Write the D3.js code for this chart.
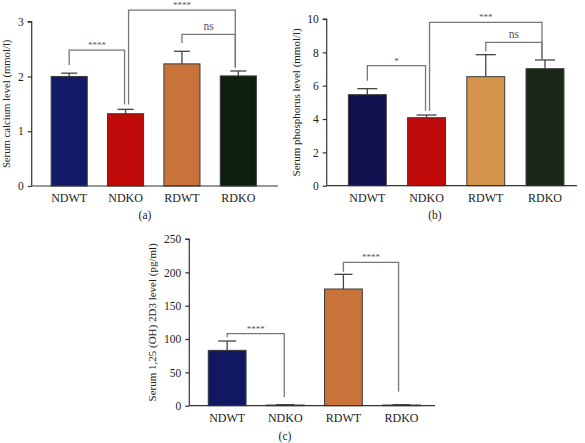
<!DOCTYPE html>
<html><head><meta charset="utf-8">
<script src="https://cdn.jsdelivr.net/npm/d3@7"></script>
<style>body{margin:0;background:#fff}svg{display:block}text{font-family:"Liberation Serif","DejaVu Serif",serif}</style>
</head><body><svg id="c" width="585" height="443"></svg>
<script>
const categories = ["NDWT","NDKO","RDWT","RDKO"];
// panel (a) serum calcium
const calciumMean = [2.00, 1.32, 2.23, 2.01];
const calciumErr  = [2.06, 1.40, 2.46, 2.10];
const calciumTicks = [0,1,2,3];
const calciumColors = ["#121c66","#c00a0a","#c8733a","#0c1f0c"];
// panel (b) serum phosphorus
const phosMean = [5.46, 4.08, 6.54, 7.02];
const phosErr  = [5.82, 4.24, 7.86, 7.54];
const phosTicks = [0,2,4,6,8,10];
const phosColors = ["#10104e","#c00a0a","#d4944c","#1a281a"];
// panel (c) serum 1,25(OH)2D3
const vitMean = [83, 1, 175, 1];
const vitErr  = [97, 1.5, 197, 1.5];
const vitTicks = [0,50,100,150,200,250];
const vitColors = ["#0f1860","#c00a0a","#c8733a","#0c1f0c"];
// significance brackets: [from, to, topValue, leftLegBottom, rightLegBottom, label]
const calciumSig = [["NDWT","NDKO",2.48,2.21,1.49,"****"],["NDKO","RDKO",3.21,1.49,2.17,"****"],["RDWT","RDKO",2.77,2.61,2.16,"ns"]];
const phosSig = [["NDWT","NDKO",7.2,6.3,4.5,"*"],["NDKO","RDKO",9.8,4.5,7.57,"***"],["RDWT","RDKO",8.6,8.05,7.57,"ns"]];
const vitSig = [["NDWT","NDKO",108,103,13,"****"],["RDWT","RDKO",215,201,21,"****"]];

const svg = d3.select("#c");

function panel(o){
  const g = svg.append("g");
  const x = d3.scaleBand().domain(categories).range(o.band).paddingInner(o.pad).paddingOuter(o.pad/2);
  const y = d3.scaleLinear().domain([0, o.ticks[o.ticks.length-1]]).range(o.yr);
  const bw = x.bandwidth();
  const cx = c => x(c) + bw/2;
  // error bars
  categories.forEach((c,i)=>{
    g.append("line").attr("x1",cx(c)).attr("x2",cx(c)).attr("y1",y(o.mean[i])).attr("y2",y(o.err[i]))
      .attr("stroke","#444").attr("stroke-width",1.3);
    g.append("line").attr("x1",cx(c)-o.cap).attr("x2",cx(c)+o.cap).attr("y1",y(o.err[i])).attr("y2",y(o.err[i]))
      .attr("stroke","#444").attr("stroke-width",1.3);
  });
  g.selectAll("rect.bar").data(categories).join("rect").attr("class","bar")
    .attr("x",c=>x(c)).attr("width",bw)
    .attr("y",(c,i)=>y(o.mean[i])).attr("height",(c,i)=>y(0)-y(o.mean[i]))
    .attr("fill",(c,i)=>o.colors[i]).attr("stroke","#3a3a3a").attr("stroke-width",1);
  // y axis
  const ya = g.append("g").attr("transform",`translate(${o.axisX[0]},0)`)
    .call(d3.axisLeft(y).tickValues(o.ticks).tickSize(4).tickPadding(4).tickFormat(d3.format("d")));
  ya.select(".domain").attr("stroke","#333").attr("stroke-width",1.2).attr("d",`M-4,${o.yr[1]}H0V${o.yr[0]}`);
  ya.selectAll(".tick line").attr("stroke","#333").attr("stroke-width",1.2);
  ya.selectAll(".tick text").attr("font-size",11.5).attr("fill","#222").attr("font-family","Liberation Serif");
  // x axis
  g.append("line").attr("x1",o.axisX[0]).attr("x2",o.axisX[1]).attr("y1",y(0)).attr("y2",y(0))
    .attr("stroke","#333").attr("stroke-width",1.2);
  g.selectAll("text.cat").data(categories).join("text").attr("class","cat")
    .attr("x",c=>cx(c)).attr("y",y(0)+16).attr("text-anchor","middle").attr("font-size",12).attr("fill","#222").text(c=>c);
  // y label
  g.append("text").attr("transform",`translate(${o.ylx},${(o.yr[0]+o.yr[1])/2}) rotate(-90)`)
    .attr("text-anchor","middle").attr("dominant-baseline","middle").attr("font-size",o.ylfs).attr("fill","#222").text(o.ylabel);
  // panel label
  g.append("text").attr("x",o.pl[0]).attr("y",o.pl[1]).attr("text-anchor","middle").attr("font-size",11.5).attr("fill","#222").text(o.plabel);
  // significance
  o.sig.forEach(s=>{
    const x1 = cx(s[0]), x2 = cx(s[1]);
    const xa = s[0]==="NDKO" ? x1 + 3 : x1;
    const xb = s[1]==="NDKO" ? x2 - 1 : x2 - 3;
    g.append("path").attr("d",`M${xa},${y(s[3])}V${y(s[2])}H${xb}V${y(s[4])}`)
      .attr("fill","none").attr("stroke","#777").attr("stroke-width",1.3);
    g.append("text").attr("x",(xa+xb)/2).attr("y",y(s[2])-(s[5]==="ns"?4:2)).attr("text-anchor","middle")
      .attr("font-size",s[5]==="ns"?11.5:9).attr("fill","#555").text(s[5]);
  });
}

panel({band:[41,266.5],pad:0.36,yr:[186,21.7],axisX:[31.7,278],ticks:calciumTicks,mean:calciumMean,err:calciumErr,
  colors:calciumColors,cap:8,ylx:8,ylfs:10.7,ylabel:"Serum calcium level (mmol/l)",pl:[145,219],plabel:"(a)",sig:calciumSig});
panel({band:[337.7,574.6],pad:0.36,yr:[185.7,19],axisX:[326.7,577],ticks:phosTicks,mean:phosMean,err:phosErr,
  colors:phosColors,cap:10,ylx:297,ylfs:11,ylabel:"Serum phosphorus level (mmol/l)",pl:[435,219],plabel:"(b)",sig:phosSig});
panel({band:[198.1,430.6],pad:0.35,yr:[405.7,239],axisX:[189.3,435],ticks:vitTicks,mean:vitMean,err:vitErr,
  colors:vitColors,cap:9,ylx:153,ylfs:11,ylabel:"Serum 1,25 (OH) 2D3 level (pg/ml)",pl:[285,440],plabel:"(c)",sig:vitSig});
</script></body></html>
